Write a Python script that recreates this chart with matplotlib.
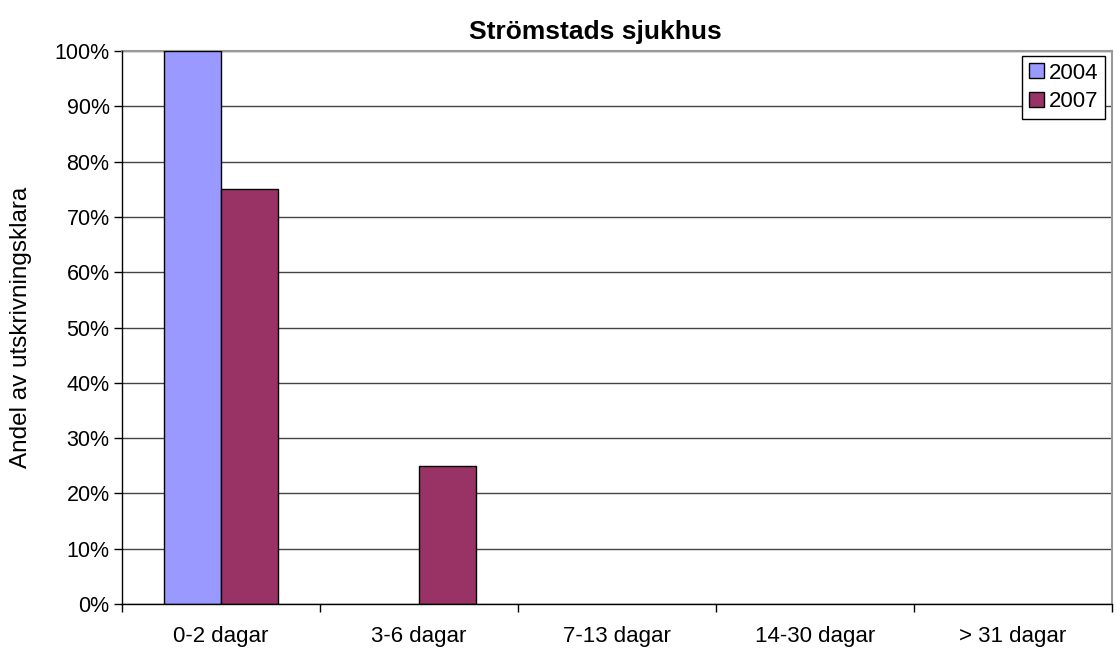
import matplotlib
matplotlib.use("Agg")
import matplotlib.pyplot as plt
import numpy as np

categories = ["0-2 dagar", "3-6 dagar", "7-13 dagar", "14-30 dagar", "> 31 dagar"]
series_names = ["2004", "2007"]
values_2004 = [100, 0, 0, 0, 0]
values_2007 = [75, 25, 0, 0, 0]
colors = ["#9999FF", "#993366"]
yticks = [0, 10, 20, 30, 40, 50, 60, 70, 80, 90, 100]

plt.rcParams['font.family'] = ['Liberation Sans', 'DejaVu Sans']

fig = plt.figure(figsize=(11.17, 6.5), dpi=100)
ax = fig.add_axes([122/1117, 46/650, 990/1117, 553/650])

x = np.arange(len(categories))
w = 0.288
for vals, off, col, name in [(values_2004, -w/2, colors[0], series_names[0]),
                             (values_2007, w/2, colors[1], series_names[1])]:
    lws = [1 if v > 0 else 0 for v in vals]
    ax.bar(x + off, vals, w, color=col, edgecolor="black", linewidth=lws, label=name, zorder=3)

ax.set_xlim(-0.5, len(categories) - 0.5)
ax.set_ylim(0, 100)
ax.set_yticks(yticks)
ax.set_yticklabels([f"{v}%" for v in yticks])
ax.set_xticks(x)
ax.set_xticklabels(categories)
ax.set_xticks(np.arange(len(categories) + 1) - 0.5, minor=True)
ax.tick_params(axis='x', which='major', length=0, pad=16, labelsize=16)
ax.tick_params(axis='x', which='minor', length=6, width=1, color='black')
ax.tick_params(axis='y', length=6, width=1, labelsize=15.5, pad=3)
ax.yaxis.grid(True, color='#444444', linewidth=1, zorder=0)

for s in ['left', 'bottom']:
    ax.spines[s].set_color('black')
    ax.spines[s].set_linewidth(1)
    ax.spines[s].set_zorder(4)
for s in ['right', 'top']:
    ax.spines[s].set_color('#999999')
    ax.spines[s].set_linewidth(1.5)

ax.set_title("Strömstads sjukhus", fontsize=19, fontweight='bold', pad=9, x=0.478)
ax.set_ylabel("Andel av utskrivningsklara", fontsize=17.5)
ax.yaxis.set_label_coords(-90/990, 0.5)

leg = ax.legend(loc='upper right', bbox_to_anchor=(0.993, 0.991), fontsize=16,
                frameon=True, fancybox=False, edgecolor='black', framealpha=1,
                handlelength=0.68, handleheight=0.68, handletextpad=0.22,
                borderpad=0.3, labelspacing=0.35, borderaxespad=0)
leg.get_frame().set_linewidth(1)

fig.savefig("out.png", dpi=100)
